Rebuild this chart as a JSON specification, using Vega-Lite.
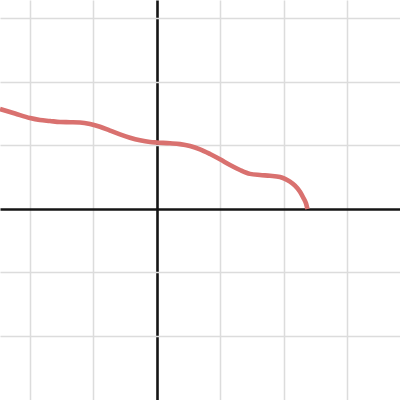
{
  "$schema": "https://vega.github.io/schema/vega-lite/v6.json",
  "width": 400,
  "height": 400,
  "autosize": {"type": "fit", "contains": "padding"},
  "padding": 0,
  "background": "white",
  "config": {"view": {"stroke": null}},
  "data": {
    "values": [
      {"x": -2.472, "y": 1.575},
      {"x": -2.236, "y": 1.504},
      {"x": -2.0, "y": 1.433},
      {"x": -1.843, "y": 1.402},
      {"x": -1.685, "y": 1.386},
      {"x": -1.528, "y": 1.37},
      {"x": -1.37, "y": 1.367},
      {"x": -1.213, "y": 1.363},
      {"x": -1.055, "y": 1.339},
      {"x": -0.898, "y": 1.296},
      {"x": -0.74, "y": 1.235},
      {"x": -0.583, "y": 1.176},
      {"x": -0.425, "y": 1.123},
      {"x": -0.268, "y": 1.082},
      {"x": -0.11, "y": 1.055},
      {"x": 0.0, "y": 1.047},
      {"x": 0.205, "y": 1.035},
      {"x": 0.362, "y": 1.022},
      {"x": 0.52, "y": 0.992},
      {"x": 0.677, "y": 0.94},
      {"x": 0.835, "y": 0.866},
      {"x": 0.992, "y": 0.783},
      {"x": 1.15, "y": 0.693},
      {"x": 1.307, "y": 0.614},
      {"x": 1.465, "y": 0.553},
      {"x": 1.622, "y": 0.535},
      {"x": 1.78, "y": 0.524},
      {"x": 1.937, "y": 0.504},
      {"x": 2.016, "y": 0.474},
      {"x": 2.094, "y": 0.43},
      {"x": 2.173, "y": 0.367},
      {"x": 2.252, "y": 0.272},
      {"x": 2.304, "y": 0.178},
      {"x": 2.346, "y": 0.09},
      {"x": 2.367, "y": 0.011},
      {"x": 2.37, "y": 0.0}
    ]
  },
  "mark": {"type": "line", "color": "#d9716f", "strokeWidth": 4.6, "interpolate": "monotone", "clip": true},
  "encoding": {
    "x": {
      "field": "x",
      "type": "quantitative",
      "scale": {"domain": [-2.4724, 3.8268], "nice": false, "zero": false},
      "axis": {
        "title": null,
        "domain": false,
        "ticks": false,
        "labels": false,
        "values": [-2, -1, 0, 1, 2, 3],
        "grid": true,
        "gridColor": {"condition": {"test": "datum.value === 0", "value": "#151515"}, "value": "#dcdcdc"},
        "gridWidth": {"condition": {"test": "datum.value === 0", "value": 2.6}, "value": 1.5}
      }
    },
    "y": {
      "field": "y",
      "type": "quantitative",
      "scale": {"domain": [-3.0079, 3.2913], "nice": false, "zero": false},
      "axis": {
        "title": null,
        "domain": false,
        "ticks": false,
        "labels": false,
        "values": [-2, -1, 0, 1, 2, 3],
        "grid": true,
        "gridColor": {"condition": {"test": "datum.value === 0", "value": "#151515"}, "value": "#dcdcdc"},
        "gridWidth": {"condition": {"test": "datum.value === 0", "value": 2.6}, "value": 1.5}
      }
    }
  }
}
